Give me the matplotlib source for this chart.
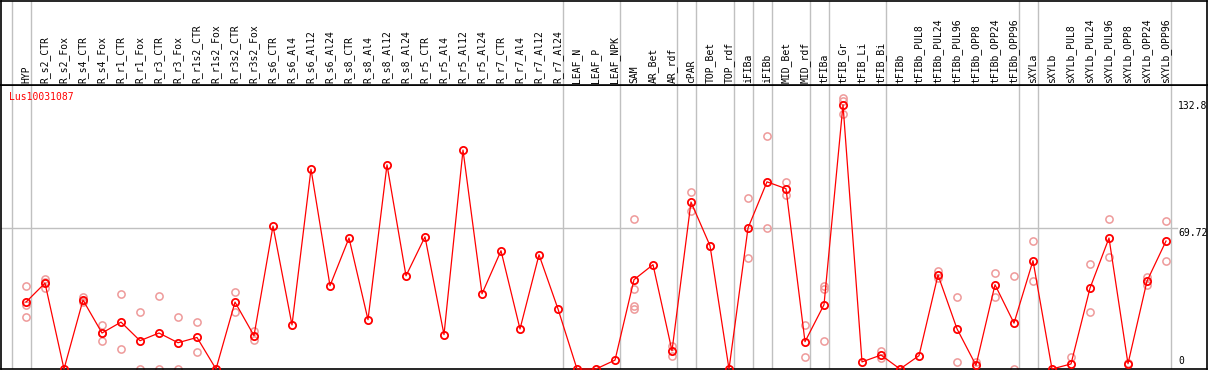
import matplotlib
matplotlib.use('Agg')
import matplotlib.pyplot as plt

# sample names (one column each)
labels = ['HYP', 'R_s2_CTR', 'R_s2_Fox', 'R_s4_CTR', 'R_s4_Fox', 'R_r1_CTR', 'R_r1_Fox',
          'R_r3_CTR', 'R_r3_Fox', 'R_r1s2_CTR', 'R_r1s2_Fox', 'R_r3s2_CTR', 'R_r3s2_Fox',
          'R_s6_CTR', 'R_s6_Al4', 'R_s6_Al12', 'R_s6_Al24', 'R_s8_CTR', 'R_s8_Al4',
          'R_s8_Al12', 'R_s8_Al24', 'R_r5_CTR', 'R_r5_Al4', 'R_r5_Al12', 'R_r5_Al24',
          'R_r7_CTR', 'R_r7_Al4', 'R_r7_Al12', 'R_r7_Al24', 'LEAF_N', 'LEAF_P', 'LEAF_NPK',
          'SAM', 'AR_Bet', 'AR_rdf', 'cPAR', 'TOP_Bet', 'TOP_rdf', 'iFIBa', 'iFIBb',
          'MID_Bet', 'MID_rdf', 'tFIBa', 'tFIB_Gr', 'tFIB_Li', 'tFIB_Bi', 'tFIBb',
          'tFIBb_PUL8', 'tFIBb_PUL24', 'tFIBb_PUL96', 'tFIBb_OPP8', 'tFIBb_OPP24',
          'tFIBb_OPP96', 'sXYLa', 'sXYLb', 'sXYLb_PUL8', 'sXYLb_PUL24', 'sXYLb_PUL96',
          'sXYLb_OPP8', 'sXYLb_OPP24', 'sXYLb_OPP96']

# mean expression per sample
means = [33.1, 42.5, 0, 34.1, 17.8, 23.2, 14.0, 17.8, 13.0, 15.6, 0, 33.1, 16.5,
         70.7, 21.8, 98.9, 41.2, 64.8, 24.4, 101.0, 46.1, 65.4, 17.0, 108.3, 37.2,
         58.5, 19.8, 56.5, 29.7, 0, 0, 4.4, 44.2, 51.6, 9.0, 82.6, 61.0, 0, 69.7,
         92.6, 89.2, 13.5, 31.8, 130.7, 3.5, 6.9, 0, 6.6, 46.5, 19.9, 1.8, 41.7,
         22.7, 53.6, 0, 2.5, 40.0, 64.8, 2.6, 43.5, 63.3]

# replicate values (light circles)
reps = [[41.0, 31.6, 25.7], [44.5, 40.0, 43.0], [], [35.6, 33.5, 33.2],
        [21.8, 13.8, 17.8], [37.1, 9.9], [28.2, 0], [36.1, 0], [25.7, 0],
        [23.2, 8.4], [], [38.1, 28.2], [18.8, 14.3],
        [], [], [], [], [], [], [], [], [], [], [], [], [], [], [], [],
        [], [], [], [74.2, 39.6, 31.0, 29.7], [], [11.5, 6.2], [87.5, 78.3],
        [61.0], [], [84.6, 54.9], [115.4, 69.7], [92.3, 85.9], [21.9, 5.7],
        [40.9, 39.6, 14.0], [134.0, 132.8, 126.3], [], [8.7, 5.4], [], [],
        [48.6, 44.8], [35.6, 3.6], [3.3], [47.5, 35.6], [46.0, 0], [63.3, 43.5],
        [], [5.7], [52.1, 28.2], [74.2, 55.4], [3.0], [45.5, 41.8], [73.3, 53.4]]

# group boundaries (after these columns)
group_ends = [-1, 0, 28, 31, 34, 35, 37, 38, 39, 41, 42, 45, 52, 53, 60]

gene = 'Lus10031087'
ref_lines = [132.8, 69.72, 0]

W, H = 1209, 370
fig = plt.figure(figsize=(W / 100, H / 100), dpi=100)
ax = fig.add_axes([1 / W, 1 / H, 1206 / W, 284 / H])
head = fig.add_axes([1 / W, 285 / H, 1206 / W, 84.5 / H], sharex=ax)

mono = 'DejaVu Sans Mono'
grey = '#c0c0c0'
xs = list(range(len(labels)))

ax.set_xlim(-25 / 19, 1181 / 19)
ax.set_ylim(0, 140.5)
head.set_ylim(0, 1)

for a in (ax, head):
    for sp in a.spines.values():
        sp.set_color('black')
        sp.set_linewidth(1.2)
    a.set_xticks([])
    a.set_yticks([])
    for g in group_ends:
        a.axvline(g + 0.25, color=grey, lw=1.0, zorder=0)

ax.axhline(ref_lines[1], xmin=0, xmax=0.975, color=grey, lw=1.0, zorder=0)

# replicates
for i, r in enumerate(reps):
    if r:
        ax.plot([i] * len(r), r, 'o', ms=5.2, mfc='none', mec='#ee9a9a', mew=1.1,
                clip_on=False, zorder=2)

# mean line
ax.plot(xs, means, '-', color='red', lw=0.9, zorder=3, clip_on=False)
ax.plot(xs, means, 'o', ms=5.2, mfc='none', mec='red', mew=1.3, zorder=4, clip_on=False)

# column labels
for i, lab in enumerate(labels):
    head.text(i, 0.02, lab, rotation=90, ha='center', va='bottom',
              family=mono, fontsize=7, color='black')

fig.text(9 / W, 1 - 97.5 / H, gene, color='red', family=mono, fontsize=7, va='center')

# value labels on the right
xr = (1178 - 26) / 19
ax.text(xr, ref_lines[0], '132.8', family=mono, fontsize=7, va='top', ha='left')
ax.text(xr, ref_lines[1], '69.72', family=mono, fontsize=7, va='top', ha='left')
ax.text(xr, 1.6, '0', family=mono, fontsize=7, va='bottom', ha='left')

fig.savefig('out.png', dpi=100)
